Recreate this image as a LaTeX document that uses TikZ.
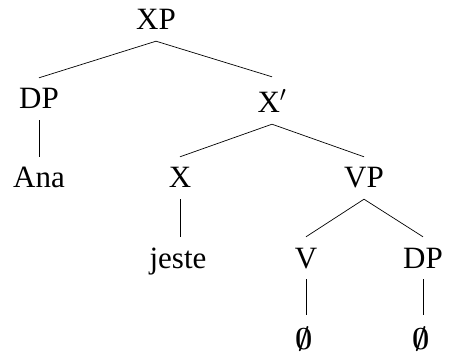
\RequirePackage{fix-cm}
\documentclass[tikz,border=0pt]{standalone}
\usepackage{fontspec}
\setmainfont{Liberation Serif}
\begin{document}
\begin{tikzpicture}[x=1pt,y=-1pt,
  cat/.style={font=\fontsize{31}{37}\selectfont, inner xsep=0pt, inner ysep=11pt,
              text height=20pt, text depth=0pt, anchor=base},
  nullcat/.style={cat, text height=23pt, font=\fontsize{30}{36}\selectfont\boldmath},
  branch/.style={line width=0.7pt}]
\useasboundingbox (0,0) rectangle (454,352);
% categories, placed by baseline
\node[cat] (xp) at (156,30) {XP};
\node[cat] (dpa) at (39,109) {DP};
\node[cat, text height=25pt] (xbar) at (272,113) {X$'$};
\node[cat] (ana) at (39,188) {Ana};
\node[cat] (x) at (180,188) {X};
\node[cat] (vp) at (364,188) {VP};
\node[cat] (jeste) at (178,268) {jeste};
\node[cat] (v) at (306,268) {V};
\node[cat] (dpb) at (423,268) {DP};
\node[nullcat] (nullv) at (304,349) {$\emptyset$};
\node[nullcat] (nulld) at (421,349) {$\emptyset$};
% branches
\draw[branch] (xp.south) -- (dpa.north);
\draw[branch] (xp.south) -- (xbar.north);
\draw[branch] (dpa.south) -- (ana.north);
\draw[branch] (xbar.south) -- (x.north);
\draw[branch] (xbar.south) -- (vp.north);
\draw[branch] (x.south) -- (x.south |- jeste.north);
\draw[branch] (vp.south) -- (v.north);
\draw[branch] (vp.south) -- (dpb.north);
\draw[branch] (v.south) -- (v.south |- nullv.north);
\draw[branch] (dpb.south) -- (dpb.south |- nulld.north);
\end{tikzpicture}
\end{document}
